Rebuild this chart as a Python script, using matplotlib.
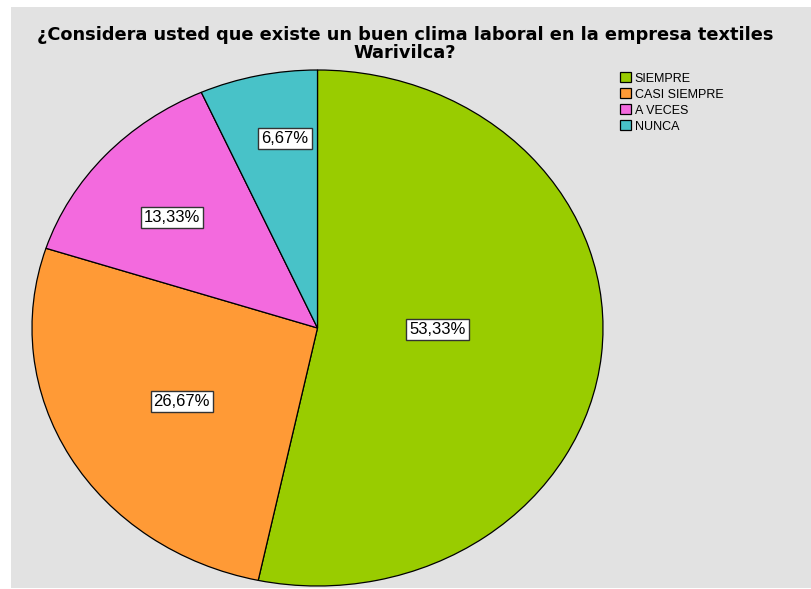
import numpy as np
import matplotlib
matplotlib.use('Agg')
import matplotlib.pyplot as plt
from matplotlib.patches import Rectangle

# Data
categories = ['SIEMPRE', 'CASI SIEMPRE', 'A VECES', 'NUNCA']
percentages = [53.33, 26.67, 13.33, 6.67]
colors = ['#99cc00', '#ff9a36', '#f36ade', '#48c2c8']
label_dist = [0.42, 0.555, 0.666, 0.745]   # how far out each % box sits
label_nudge = [5.0, 1.1, 1.8, -3.2]        # degrees off the slice middle

title = '¿Considera usted que existe un buen clima laboral en la empresa textiles\nWarivilca?'

plt.rcParams['font.family'] = ['Liberation Sans', 'DejaVu Sans']

W, H = 811, 589
fig = plt.figure(figsize=(W / 100, H / 100), dpi=100)
fig.patch.set_facecolor('white')

# gray chart area
fig.patches.append(Rectangle((11 / W, 1 - 588 / H), 800 / W, 581 / H,
                             transform=fig.transFigure, facecolor='#e2e2e2',
                             edgecolor='none', zorder=-5))

# axes sized to the ellipse of the pie
ax = fig.add_axes([32 / W, 1 - 586 / H, 571 / W, 516 / H], zorder=2)
wedges, _ = ax.pie(percentages, colors=colors, startangle=90, counterclock=False,
                   wedgeprops=dict(edgecolor='black', linewidth=0.9))
ax.set_aspect('auto')
ax.set_xlim(-1, 1)
ax.set_ylim(-1, 1)
ax.axis('off')

for w, p, d, n in zip(wedges, percentages, label_dist, label_nudge):
    ang = np.deg2rad((w.theta1 + w.theta2) / 2 + n)
    ax.text(d * np.cos(ang), d * np.sin(ang), f'{p:.2f}%'.replace('.', ','),
            ha='center', va='center', fontsize=12, color='black',
            bbox=dict(boxstyle='square,pad=0.18', facecolor='white',
                      edgecolor='#333333', linewidth=1.0))

fig.text(405 / W, 1 - 44 / H, title, ha='center', va='center',
         fontsize=12.8, fontweight='bold', linespacing=0.95,
         family='DejaVu Sans')

leg = fig.legend(wedges, categories, loc='upper left',
                 bbox_to_anchor=(614 / W, 1 - 66 / H), frameon=False,
                 fontsize=9, handlelength=0.85, handleheight=0.85,
                 handletextpad=0.3, labelspacing=0.3, borderpad=0)
for h in leg.legend_handles:
    h.set_linewidth(0.9)

fig.savefig('out.png', dpi=100)
